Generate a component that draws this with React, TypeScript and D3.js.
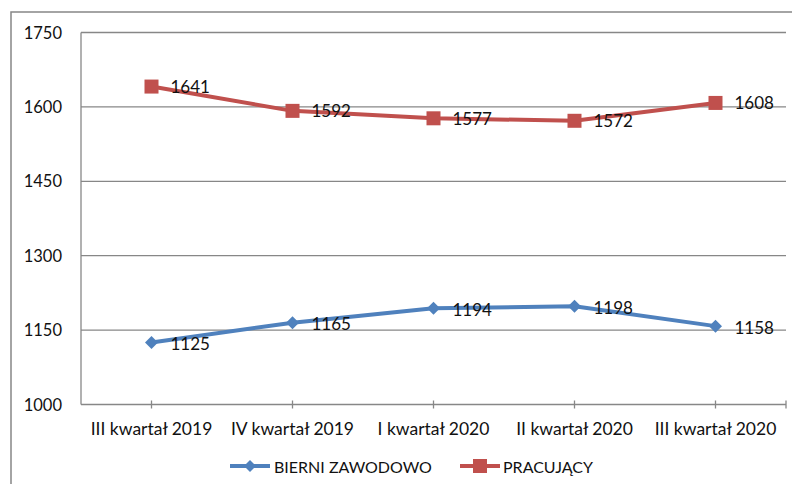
import React from "react";
import * as d3 from "d3";

const categories = ["III kwartał 2019", "IV kwartał 2019", "I kwartał 2020", "II kwartał 2020", "III kwartał 2020"];
const bierni = [1125, 1165, 1194, 1198, 1158];
const pracujacy = [1641, 1592, 1577, 1572, 1608];
const yTicks = [1000, 1150, 1300, 1450, 1600, 1750];
const seriesNames = ["BIERNI ZAWODOWO", "PRACUJĄCY"];

const W = 792, H = 484;
const left = 81, right = 786, top = 32.5, bottom = 404.5;
const BLUE = "#4F81BD", RED = "#C0504D", GRID = "#878787";
const FONT = "Lato, 'Open Sans', sans-serif";

export default function App() {
  const x = d3.scaleBand<string>().domain(categories).range([left, right]);
  const cx = (c: string) => (x(c) as number) + x.bandwidth() / 2;
  const y = d3.scaleLinear().domain([1000, 1750]).range([bottom, top]);
  const line = d3.line<number>().x((_, i) => cx(categories[i])).y((d) => y(d));

  const diamond = (px: number, py: number, r: number) =>
    `M${px},${py - r}L${px + r},${py}L${px},${py + r}L${px - r},${py}Z`;

  return (
    <svg width={W} height={H} style={{ position: "absolute", left: 0, top: 0, background: "#fff" }}>
      {/* outer border */}
      <path d={`M11,${H}V12H${W}`} fill="none" stroke={GRID} strokeWidth={1.5} />
      {/* grid */}
      {yTicks.map((t) => (
        <g key={t}>
          <line x1={left} x2={right} y1={y(t)} y2={y(t)} stroke={GRID} strokeWidth={1.3} />
          <text x={62} y={y(t)} textAnchor="end" dominantBaseline="central" fontFamily={FONT} fontSize={16.5} fill="#111">
            {t}
          </text>
        </g>
      ))}
      <line x1={left} x2={left} y1={top} y2={bottom} stroke={GRID} strokeWidth={1.3} />
      {/* x ticks */}
      {categories.map((c) => (
        <g key={c}>
          <line x1={cx(c)} x2={cx(c)} y1={bottom - 4} y2={bottom + 4} stroke={GRID} strokeWidth={1.3} />
          <text x={cx(c)} y={428} textAnchor="middle" dominantBaseline="central" fontFamily={FONT} fontSize={17.5} fill="#111">
            {c}
          </text>
        </g>
      ))}
      <line x1={right} x2={right} y1={bottom - 4} y2={bottom + 4} stroke={GRID} strokeWidth={1.3} />

      {/* series */}
      <path d={line(pracujacy) || ""} fill="none" stroke={RED} strokeWidth={4} strokeLinejoin="round" />
      <path d={line(bierni) || ""} fill="none" stroke={BLUE} strokeWidth={4} strokeLinejoin="round" />
      {pracujacy.map((v, i) => (
        <g key={"p" + i}>
          <rect x={cx(categories[i]) - 7} y={y(v) - 7} width={14} height={14} fill={RED} />
          <text x={cx(categories[i]) + 19} y={y(v)} dominantBaseline="central" fontFamily={FONT} fontSize={17} fill="#111">
            {v}
          </text>
        </g>
      ))}
      {bierni.map((v, i) => (
        <g key={"b" + i}>
          <path d={diamond(cx(categories[i]), y(v), 6.5)} fill={BLUE} />
          <text x={cx(categories[i]) + 19} y={y(v) + 1} dominantBaseline="central" fontFamily={FONT} fontSize={17} fill="#111">
            {v}
          </text>
        </g>
      ))}

      {/* legend */}
      <line x1={230} x2={270} y1={466} y2={466} stroke={BLUE} strokeWidth={4} />
      <path d={diamond(250, 466, 6)} fill={BLUE} />
      <text x={274} y={466} dominantBaseline="central" fontFamily={FONT} fontSize={16} fill="#111">
        {seriesNames[0]}
      </text>
      <line x1={460} x2={500} y1={466} y2={466} stroke={RED} strokeWidth={4} />
      <rect x={473} y={459} width={14} height={14} fill={RED} />
      <text x={503} y={466} dominantBaseline="central" fontFamily={FONT} fontSize={16} fill="#111">
        {seriesNames[1]}
      </text>
    </svg>
  );
}
